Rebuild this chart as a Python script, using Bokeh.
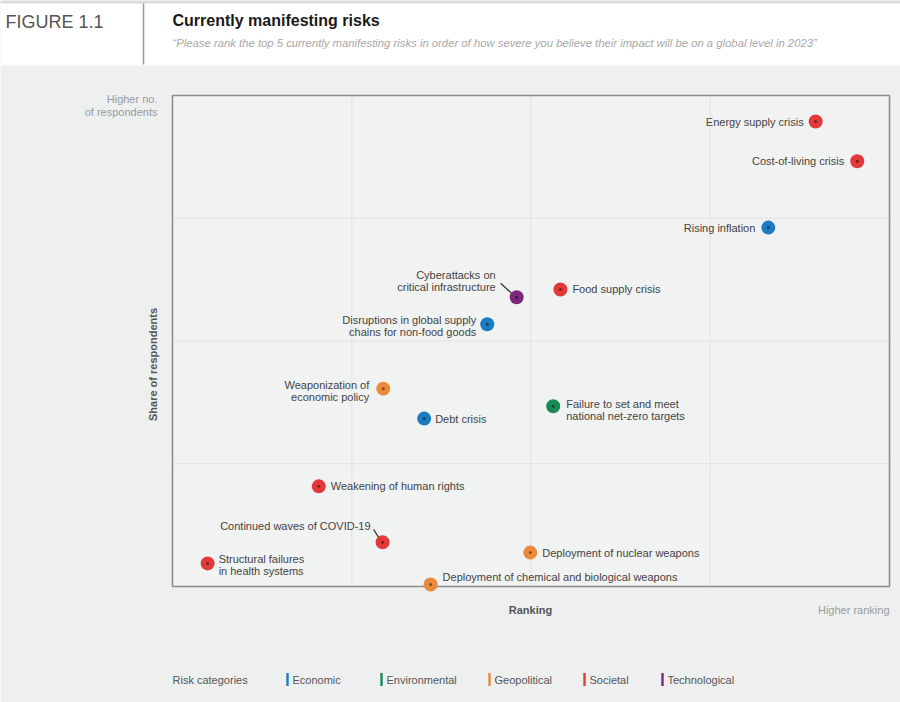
import math
from bokeh.plotting import figure
from bokeh.models import Range1d, Label, ColumnDataSource
from bokeh.embed import file_html
from bokeh.resources import INLINE
from bokeh.core.properties import value

# ---------------- data ----------------
risks = [
    "Energy supply crisis",
    "Cost-of-living crisis",
    "Rising inflation",
    "Cyberattacks on\ncritical infrastructure",
    "Food supply crisis",
    "Disruptions in global supply\nchains for non-food goods",
    "Weaponization of\neconomic policy",
    "Debt crisis",
    "Failure to set and meet\nnational net-zero targets",
    "Weakening of human rights",
    "Continued waves of COVID-19",
    "Structural failures\nin health systems",
    "Deployment of nuclear weapons",
    "Deployment of chemical and biological weapons",
]
ranking = [89.7, 95.5, 83.1, 48.0, 54.1, 43.9, 29.4, 35.1, 53.1, 20.4, 29.3, 4.9, 49.9, 36.0]
share = [94.7, 86.6, 73.1, 58.9, 60.5, 53.4, 40.3, 34.2, 36.7, 20.4, 9.0, 4.7, 6.9, 0.4]
category = ["Societal", "Societal", "Economic", "Technological", "Societal", "Economic",
            "Geopolitical", "Economic", "Environmental", "Societal", "Societal", "Societal",
            "Geopolitical", "Geopolitical"]

categories = ["Economic", "Environmental", "Geopolitical", "Societal", "Technological"]
category_colors = ["#1d7cc0", "#178a55", "#ea8a3a", "#e23a3a", "#7b2a7b"]

figure_tag = "FIGURE 1.1"
title = "Currently manifesting risks"
subtitle = ("\u201cPlease rank the top 5 currently manifesting risks in order of how severe "
            "you believe their impact will be on a global level in 2023\u201d")
y_top_label = ["Higher no.", "of respondents"]
y_axis_label = "Share of respondents"
x_axis_label = "Ranking"
x_right_label = "Higher ranking"
legend_title = "Risk categories"
grid_ticks = [25, 50, 75]

# ---------------- layout / style ----------------
FONT_NAME = "Liberation Sans"
FONT = value(FONT_NAME)
BG = "#eef0f0"
FRAME_BG = "#f1f2f2"
TXT = "#444444"
W, H = 900, 702

# plot box in page pixels
PL, PR, PT, PB = 172, 889, 95, 586
XU = (PR - PL) / 100.0
YU = (PB - PT) / 100.0

# label placement relative to each point (pixels; dy positive = down)
label_side = ["right", "right", "right", "right", "left", "right", "right", "left",
              "left", "left", "right", "left", "left", "left"]
label_dx = [-12, -13, -13, -21, 12, -11, -14, 11, 13, 12, -12, 11, 12, 12]
label_dy = [0, 0, 0, -16, 0, 2, 2, 0, 4, 0, -16, 2, 0, -8]
leaders = {3: (-16, -14, -4, -3), 10: (-9, -13, -2, -2)}


def dx_(px):
    return (px - PL) / XU


def dy_(py):
    return (PB - py) / YU


def lab(**kw):
    kw.setdefault("text_font", FONT_NAME)
    kw.setdefault("text_font_size", "11px")
    kw.setdefault("text_baseline", "middle")
    return Label(**kw)


p = figure(width=W, height=H, x_range=Range1d(dx_(0), dx_(W)), y_range=Range1d(dy_(H), dy_(0)),
           output_backend="svg", toolbar_location=None,
           x_axis_location=None, y_axis_location=None,
           min_border=0, min_border_left=0, min_border_right=0, min_border_top=0, min_border_bottom=0)
p.background_fill_color = BG
p.border_fill_color = BG
p.outline_line_color = None
p.grid.visible = False

# ---------------- header ----------------
p.quad(left=[dx_(0)], right=[dx_(W)], top=[dy_(0)], bottom=[dy_(65)], fill_color="white", line_color=None)
p.quad(left=[dx_(0)], right=[dx_(W)], top=[dy_(0)], bottom=[dy_(3)], fill_color="#dcdcdc", line_color=None)
p.segment(x0=[dx_(143)], y0=[dy_(3)], x1=[dx_(143)], y1=[dy_(64)], line_color="#9a9a9a", line_width=1.5)
p.add_layout(lab(x=dx_(5), y=dy_(21), text=figure_tag, text_font_size="18px", text_color="#555555"))
p.add_layout(lab(x=dx_(172), y=dy_(20), text=title, text_font_size="16px",
                 text_font_style="bold", text_color="#1a1a1a"))
p.add_layout(lab(x=dx_(172), y=dy_(42), text=subtitle, text_font_size="11.3px",
                 text_font_style="italic", text_color="#a8a8a8"))

# ---------------- chart ----------------
p.quad(left=[0], right=[100], bottom=[0], top=[100], fill_color=FRAME_BG, line_color=None)
p.segment(x0=grid_ticks, y0=[0] * 3, x1=grid_ticks, y1=[100] * 3, line_color="#e0e2e2", line_width=1)
p.segment(x0=[0] * 3, y0=grid_ticks, x1=[100] * 3, y1=grid_ticks, line_color="#e0e2e2", line_width=1)
p.quad(left=[0], right=[100], bottom=[0], top=[100], fill_color=None,
       line_color="#8c8c8c", line_width=1.6)

colors = [category_colors[categories.index(c)] for c in category]

lx0, ly0, lx1, ly1 = [], [], [], []
for i, (a, b, c, d) in leaders.items():
    lx0.append(ranking[i] + a / XU)
    ly0.append(share[i] - b / YU)
    lx1.append(ranking[i] + c / XU)
    ly1.append(share[i] - d / YU)
p.segment(x0=lx0, y0=ly0, x1=lx1, y1=ly1, line_color="#333333", line_width=1.2)

src = ColumnDataSource(dict(x=ranking, y=share, color=colors))
p.scatter("x", "y", source=src, size=14, fill_color="color", line_color=None)
p.scatter("x", "y", source=src, size=3, fill_color="#000000", fill_alpha=0.45, line_color=None)

for side in ("left", "right"):
    idx = [i for i in range(len(risks)) if label_side[i] == side]
    s = ColumnDataSource(dict(
        x=[ranking[i] + label_dx[i] / XU for i in idx],
        y=[share[i] - label_dy[i] / YU for i in idx],
        t=[risks[i] for i in idx],
    ))
    p.text("x", "y", text="t", source=s, text_align=side, text_baseline="middle",
           text_font=FONT, text_font_size="11px", text_color=TXT, text_line_height=1.0)

p.add_layout(lab(x=dx_(157), y=dy_(98), text=y_top_label[0], text_color="#9a9a9a", text_align="right"))
p.add_layout(lab(x=dx_(157), y=dy_(111), text=y_top_label[1], text_color="#9a9a9a", text_align="right"))
p.add_layout(lab(x=dx_(152), y=dy_(364), text=y_axis_label, text_font_style="bold",
                 text_color="#555555", angle=math.pi / 2, text_align="center"))
p.add_layout(lab(x=dx_(530), y=dy_(609), text=x_axis_label, text_font_style="bold",
                 text_color="#555555", text_align="center"))
p.add_layout(lab(x=dx_(889), y=dy_(609), text=x_right_label, text_color="#9a9a9a", text_align="right"))

# ---------------- legend ----------------
legend_x = [287, 381, 489, 584, 662]
LY = 679
p.add_layout(lab(x=dx_(172), y=dy_(LY), text=legend_title, text_color="#555555"))
p.quad(left=[dx_(x - 1.2) for x in legend_x], right=[dx_(x + 1.2) for x in legend_x],
       bottom=[dy_(LY + 6.5)] * 5, top=[dy_(LY - 6.5)] * 5, fill_color=category_colors, line_color=None)
for x, name in zip(legend_x, categories):
    p.add_layout(lab(x=dx_(x + 5), y=dy_(LY), text=name, text_color="#555555"))

open("out.html", "w").write(file_html(p, INLINE))
